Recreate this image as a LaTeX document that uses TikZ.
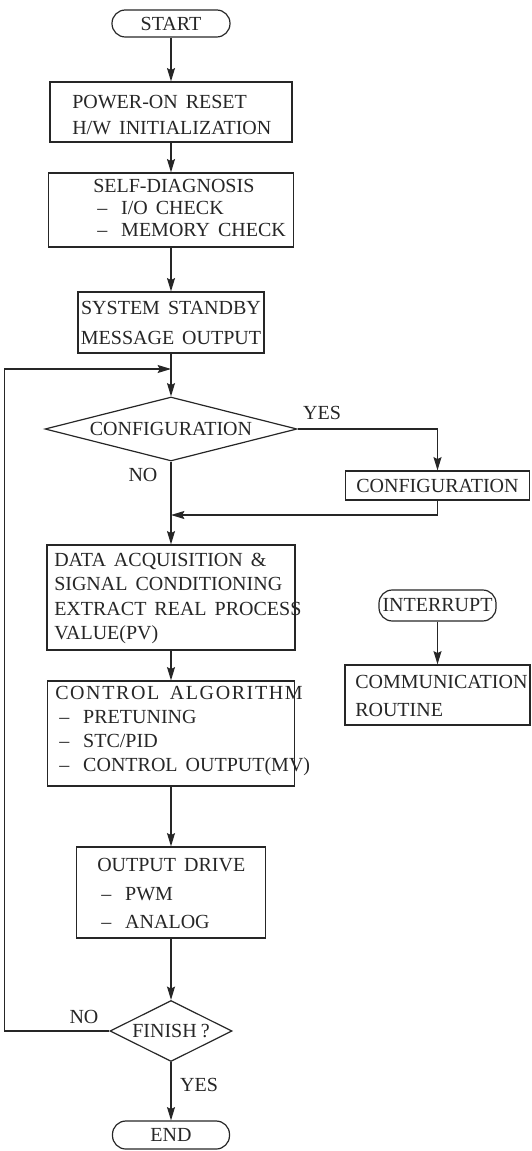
\documentclass[tikz,border=0pt]{standalone}
\usepackage{fontspec}
\setmainfont[WordSpace=1.6]{Liberation Serif}
\usetikzlibrary{arrows.meta,shapes.geometric}

% dash item inside a box
\newcommand{\dsh}{\hspace*{3pt}\textendash\hspace{0.7em}}

\tikzset{
  box/.style={draw, line width=0.9pt, inner sep=0pt},
  term/.style={draw, line width=0.9pt, rounded corners=10pt, inner sep=0pt},
  dia/.style={draw, diamond, line width=0.9pt, inner sep=0pt},
  txt/.style={anchor=west, align=left, inner sep=0pt},
  lbl/.style={inner sep=0pt},
  arr/.style={line width=0.9pt, -{Stealth[length=10pt,width=6pt,inset=1.5pt]}},
}

\begin{document}
\begin{tikzpicture}[x=0.75pt, y=-0.75pt, font=\fontsize{15}{18}\selectfont, color=black!85]
		\useasboundingbox (0,0) rectangle (531,1151);
		
		%%%%% main column %%%%%
		\node[term, minimum width=88.5pt, minimum height=20.25pt] (start) at (171,23.5) {START};
		
		\node[box, minimum width=181.5pt, minimum height=45pt] (power) at (171,112) {};
		\node[txt, font=\fontsize{15}{19.5}\selectfont] (powertxt) at (72,115) {POWER-ON RESET\\H/W INITIALIZATION};
		
		\node[box, minimum width=183.75pt, minimum height=55.5pt] (diag) at (171,210) {};
		\node[txt, font=\fontsize{15}{16.5}\selectfont] (diagtxt) at (93,208) {SELF-DIAGNOSIS\\\dsh I/O CHECK\\\dsh MEMORY CHECK};
		
		\node[box, align=center, font=\fontsize{15}{22.5}\selectfont, minimum width=139.5pt, minimum height=45.75pt] (standby) at (171,322.5) {SYSTEM STANDBY\\MESSAGE OUTPUT};
		
		\node[dia, shape aspect=4, minimum width=189pt, minimum height=48pt] (cfgq) at (171,429) {CONFIGURATION};
		
		\node[box, minimum width=186pt, minimum height=78.75pt] (acq) at (171,597.5) {};
		\node[txt, font=\fontsize{15}{18.25}\selectfont] (acqtxt) at (54,598.5) {DATA ACQUISITION \&\\SIGNAL CONDITIONING\\EXTRACT REAL PROCESS\\VALUE(PV)};
		
		\node[box, minimum width=185.25pt, minimum height=78.75pt] (ctrl) at (171,733.5) {};
		\node[txt, font=\fontsize{15}{18}\selectfont] (ctrltxt) at (55,731) {{\addfontfeature{LetterSpace=8}CONTROL ALGORITHM}\\\dsh PRETUNING\\\dsh STC/PID\\\dsh CONTROL OUTPUT(MV)};
		
		\node[box, minimum width=141.75pt, minimum height=68.25pt] (drive) at (171,892.5) {};
		\node[txt, font=\fontsize{15}{21.4}\selectfont] (drivetxt) at (97,893.5) {OUTPUT DRIVE\\\dsh PWM\\\dsh ANALOG};
		
		\node[dia, shape aspect=2, minimum width=91.5pt, minimum height=45.75pt] (finish) at (171,1031) {FINISH\hspace{3pt}?};
		
		\node[term, minimum width=87.75pt, minimum height=21pt] (end) at (171,1135) {END};
		
		%%%%% right column %%%%%
		\node[box, minimum width=138pt, minimum height=21.75pt] (cfg) at (437.5,485.5) {CONFIGURATION};
		
		\node[term, minimum width=87.75pt, minimum height=23.25pt] (intr) at (437.5,605.5) {INTERRUPT};
		
		\node[box, minimum width=138.75pt, minimum height=45pt] (comm) at (437.5,695) {};
		\node[txt, font=\fontsize{15}{21}\selectfont] (commtxt) at (355,696) {COMMUNICATION\\ROUTINE};
		
		%%%%% labels %%%%%
		\node[lbl] (yes1) at (322,413) {YES};
		\node[lbl] (no1) at (143,475) {NO};
		\node[lbl] (no2) at (84,1017) {NO};
		\node[lbl] (yes2) at (199,1085) {YES};
		
		%%%%% connectors %%%%%
		\coordinate (join) at (171,369);
		\coordinate (loopc) at (4.5,369);
		\coordinate (merge) at (171,515);
		
		\draw[arr] (start) -- (power);
		\draw[arr] (power) -- (diag);
		\draw[arr] (diag) -- (standby);
		\draw[arr] (standby) -- (cfgq);
		\draw[arr] (cfgq.east) -| (cfg.north);
		\draw[arr] (cfg.south) |- (merge);
		\draw[arr] (cfgq) -- (acq);
		\draw[arr] (acq) -- (ctrl);
		\draw[arr] (ctrl) -- (drive);
		\draw[arr] (drive) -- (finish);
		\draw[arr] (finish) -- (end);
		\draw[arr] (finish.west) -| (loopc) -- (join);
		\draw[arr] (intr) -- (comm);
		
	\end{tikzpicture}
\end{document}
